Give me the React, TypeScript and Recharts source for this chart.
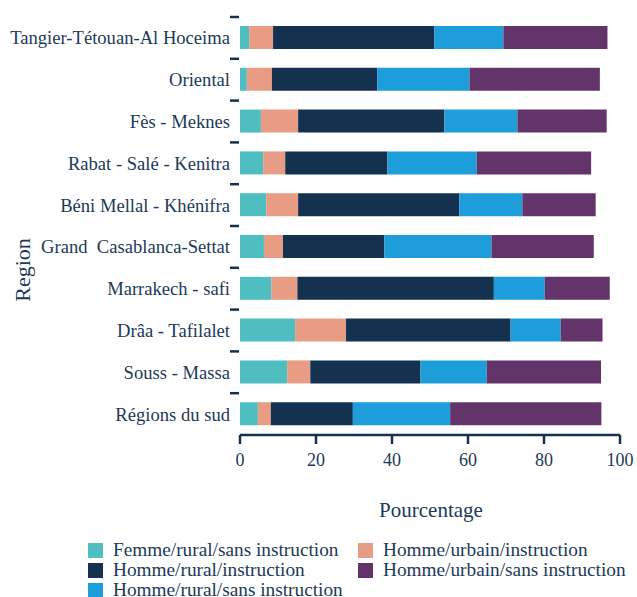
import React from 'react';
import { BarChart, Bar, XAxis, YAxis } from 'recharts';

const regions = [
	'Tangier-Tétouan-Al Hoceima',
	'Oriental',
	'Fès - Meknes',
	'Rabat - Salé - Kenitra',
	'Béni Mellal - Khénifra',
	'Grand  Casablanca-Settat',
	'Marrakech - safi',
	'Drâa - Tafilalet',
	'Souss - Massa',
	'Régions du sud',
];

// one value per region, same order as above
const femmeRuralSans = [2.4, 1.8, 5.5, 6.1, 6.9, 6.3, 8.2, 14.5, 12.4, 4.7];
const hommeUrbainInstr = [6.3, 6.6, 9.8, 5.8, 8.4, 5.0, 6.9, 13.4, 6.1, 3.4];
const hommeRuralInstr = [42.4, 27.7, 38.5, 26.9, 42.4, 26.7, 51.7, 43.3, 29.0, 21.6];
const hommeRuralSans = [18.2, 24.3, 19.2, 23.5, 16.6, 28.2, 13.4, 13.2, 17.4, 25.6];
const hommeUrbainSans = [27.4, 34.3, 23.5, 30.1, 19.3, 26.9, 17.1, 11.0, 30.1, 39.8];

const xTicks = [0, 20, 40, 60, 80, 100];

const series = [
	{ key: 'femmeRuralSans', name: 'Femme/rural/sans instruction', color: '#4fbec1' },
	{ key: 'hommeUrbainInstr', name: 'Homme/urbain/instruction', color: '#e89c84' },
	{ key: 'hommeRuralInstr', name: 'Homme/rural/instruction', color: '#143250' },
	{ key: 'hommeRuralSans', name: 'Homme/rural/sans instruction', color: '#1d9dd9' },
	{ key: 'hommeUrbainSans', name: 'Homme/urbain/sans instruction', color: '#63346a' },
];

// legend reads row by row, two columns
const legendOrder = [
	'femmeRuralSans', 'hommeUrbainInstr',
	'hommeRuralInstr', 'hommeUrbainSans',
	'hommeRuralSans',
];

const data = regions.map((region, i) => ({
	region,
	femmeRuralSans: femmeRuralSans[i],
	hommeUrbainInstr: hommeUrbainInstr[i],
	hommeRuralInstr: hommeRuralInstr[i],
	hommeRuralSans: hommeRuralSans[i],
	hommeUrbainSans: hommeUrbainSans[i],
}));

const WIDTH = 637;
const HEIGHT = 597;
const TOP = 17;
const X_AXIS_H = 60;
const BOTTOM = 102;
const FONT = 'Liberation Serif, DejaVu Serif, Times New Roman, serif';
const INK = '#1b3a57';

const band = (HEIGHT - TOP - BOTTOM - X_AXIS_H) / regions.length;

function RegionTick(props: any) {
	const { y, payload } = props;
	const top = y - band / 2;
	return (
		<g>
			<line x1={230} x2={239} y1={top} y2={top} stroke="#143250" strokeWidth={2.5} />
			<text
				x={230}
				y={y}
				dy="0.35em"
				textAnchor="end"
				fontSize={18.6}
				fill={INK}
				style={{ fontFamily: FONT, whiteSpace: 'pre' }}
			>
				{payload.value}
			</text>
		</g>
	);
}

export default function App() {
	return (
		<div style={{ position: 'absolute', left: 0, top: 0, width: WIDTH, height: HEIGHT, overflow: 'hidden', fontFamily: FONT }}>
			<BarChart
				width={WIDTH}
				height={HEIGHT}
				data={data}
				layout="vertical"
				margin={{ top: TOP, right: 17, bottom: BOTTOM, left: 0 }}
				barSize={23}
				style={{ fontFamily: FONT }}
			>
				<XAxis
					type="number"
					domain={[0, 100]}
					ticks={xTicks}
					height={X_AXIS_H}
					stroke="#143250"
					strokeWidth={2.5}
					tickSize={9}
					tickMargin={9}
					tick={{ fontSize: 18, fill: INK, style: { fontFamily: FONT } }}
					label={{
						position: 'bottom',
						content: () => (
							<text x={431} y={510} dy="0.35em" textAnchor="middle" fontSize={21} fill={INK} style={{ fontFamily: FONT }}>
								Pourcentage
							</text>
						),
					}}
				/>
				<YAxis
					type="category"
					dataKey="region"
					width={240}
					axisLine={false}
					tickLine={false}
					interval={0}
					tick={<RegionTick />}
					label={{
						position: 'insideLeft',
						content: () => (
							<text
								x={22}
								y={270}
								dy="0.35em"
								transform="rotate(-90 22 270)"
								textAnchor="middle"
								fontSize={22}
								fill={INK}
								style={{ fontFamily: FONT }}
							>
								Region
							</text>
						),
					}}
				/>
				{series.map((s) => (
					<Bar
						key={s.key}
						dataKey={s.key}
						name={s.name}
						stackId="a"
						fill={s.color}
						isAnimationActive={false}
					/>
				))}
			</BarChart>
			{legendOrder.map((key, i) => {
				const s = series.find((d) => d.key === key)!;
				const col = i % 2;
				const row = Math.floor(i / 2);
				return (
					<div
						key={key}
						style={{
							position: 'absolute',
							left: col === 0 ? 88 : 358,
							top: 542 + row * 20,
							height: 16,
							display: 'flex',
							alignItems: 'center',
							whiteSpace: 'nowrap',
						}}
					>
						<span style={{ width: 15, height: 15, background: s.color, display: 'inline-block', marginRight: 10 }} />
						<span style={{ fontSize: 19.3, color: INK, lineHeight: '16px' }}>{s.name}</span>
					</div>
				);
			})}
		</div>
	);
}
